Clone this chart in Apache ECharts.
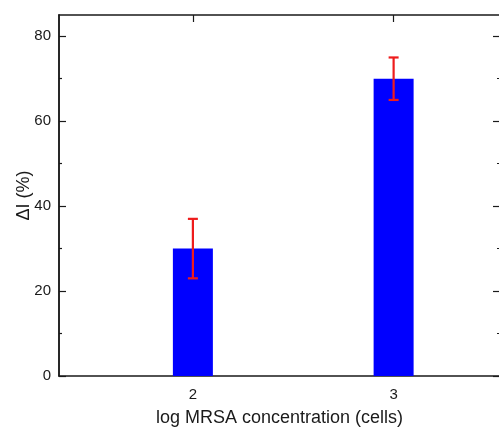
<!DOCTYPE html>
<html>
<head>
<meta charset="utf-8">
<script src="https://cdn.jsdelivr.net/npm/echarts@6/dist/echarts.min.js"></script>
<style>
html,body{margin:0;padding:0;background:#fff;}
#chart{width:499px;height:430px;}
</style>
</head>
<body>
<div id="chart"></div>
<script>
// Data
var xValues = [2, 3];
var barValues = [30, 70];
var errLow = [23, 65];
var errHigh = [37, 75];
var yMajorTicks = [0, 20, 40, 60, 80];
var yMinorTicks = [10, 30, 50, 70];
var xTicks = [2, 3];
var xName = 'log MRSA concentration (cells)';
var yName = '\u0394I (%)';

var FONT = '"Liberation Sans", Arial, sans-serif';
var AXIS_COLOR = '#1a1a1a';

var chart = echarts.init(document.getElementById('chart'), null, {renderer: 'canvas'});

var barData = xValues.map(function (x, i) { return [x, barValues[i]]; });
var errData = xValues.map(function (x, i) { return [x, errLow[i], errHigh[i]]; });

function yAxisDef(pos, ticks, len, showLabel, name) {
  var a = {
    type: 'value', position: pos, min: 0, max: 85, offset: 0,
    axisLine: {show: true, onZero: false, lineStyle: {color: AXIS_COLOR, width: 1.5}},
    axisTick: {show: true, inside: true, length: len, customValues: ticks, lineStyle: {color: AXIS_COLOR, width: 1.2}},
    axisLabel: {show: showLabel, customValues: ticks, margin: 8, fontSize: 15, color: AXIS_COLOR, fontFamily: FONT},
    splitLine: {show: false}
  };
  if (name) {
    a.name = name; a.nameLocation = 'middle'; a.nameGap = 26; a.nameMoveOverlap = false;
    a.nameTextStyle = {fontSize: 18, color: AXIS_COLOR, fontFamily: FONT};
  }
  return a;
}

function xAxisDef(pos, showLabel, name) {
  var a = {
    type: 'value', position: pos, min: 1.333, max: 3.53, offset: 0,
    axisLine: {show: true, onZero: false, lineStyle: {color: AXIS_COLOR, width: 1.5}},
    axisTick: {show: true, inside: true, length: 7, customValues: xTicks, lineStyle: {color: AXIS_COLOR, width: 1.2}},
    axisLabel: {show: showLabel, customValues: xTicks, margin: 11, fontSize: 15, color: AXIS_COLOR, fontFamily: FONT},
    splitLine: {show: false}
  };
  if (name) {
    a.name = name; a.nameLocation = 'middle'; a.nameGap = 33; a.nameMoveOverlap = false;
    a.nameTextStyle = {fontSize: 18, color: AXIS_COLOR, fontFamily: FONT};
  }
  return a;
}

var option = {
  backgroundColor: '#fff',
  animation: false,
  grid: {left: 59, right: -1, top: 15, bottom: 54, containLabel: false, outerBoundsMode: 'none'},
  xAxis: [
    xAxisDef('bottom', true, xName),
    xAxisDef('top', false, null)
  ],
  yAxis: [
    yAxisDef('left', yMajorTicks, 7, true, yName),
    yAxisDef('left', yMinorTicks, 3, false, null),
    yAxisDef('right', yMajorTicks, 7, false, null),
    yAxisDef('right', yMinorTicks, 3, false, null)
  ],
  series: [
    {
      type: 'bar', xAxisIndex: 0, yAxisIndex: 0,
      data: barData, barWidth: 40,
      itemStyle: {color: '#0000ff'},
      z: 1
    },
    {
      type: 'custom', xAxisIndex: 0, yAxisIndex: 0,
      data: errData,
      z: 5,
      renderItem: function (params, api) {
        var x = api.value(0);
        var lo = api.coord([x, api.value(1)]);
        var hi = api.coord([x, api.value(2)]);
        var hw = 5;
        var style = {stroke: '#ee1c1c', lineWidth: 2.2};
        return {
          type: 'group',
          children: [
            {type: 'line', shape: {x1: lo[0], y1: lo[1], x2: hi[0], y2: hi[1]}, style: style},
            {type: 'line', shape: {x1: lo[0] - hw, y1: lo[1], x2: lo[0] + hw, y2: lo[1]}, style: style},
            {type: 'line', shape: {x1: hi[0] - hw, y1: hi[1], x2: hi[0] + hw, y2: hi[1]}, style: style}
          ]
        };
      }
    }
  ]
};
chart.setOption(option);
</script>
</body>
</html>
